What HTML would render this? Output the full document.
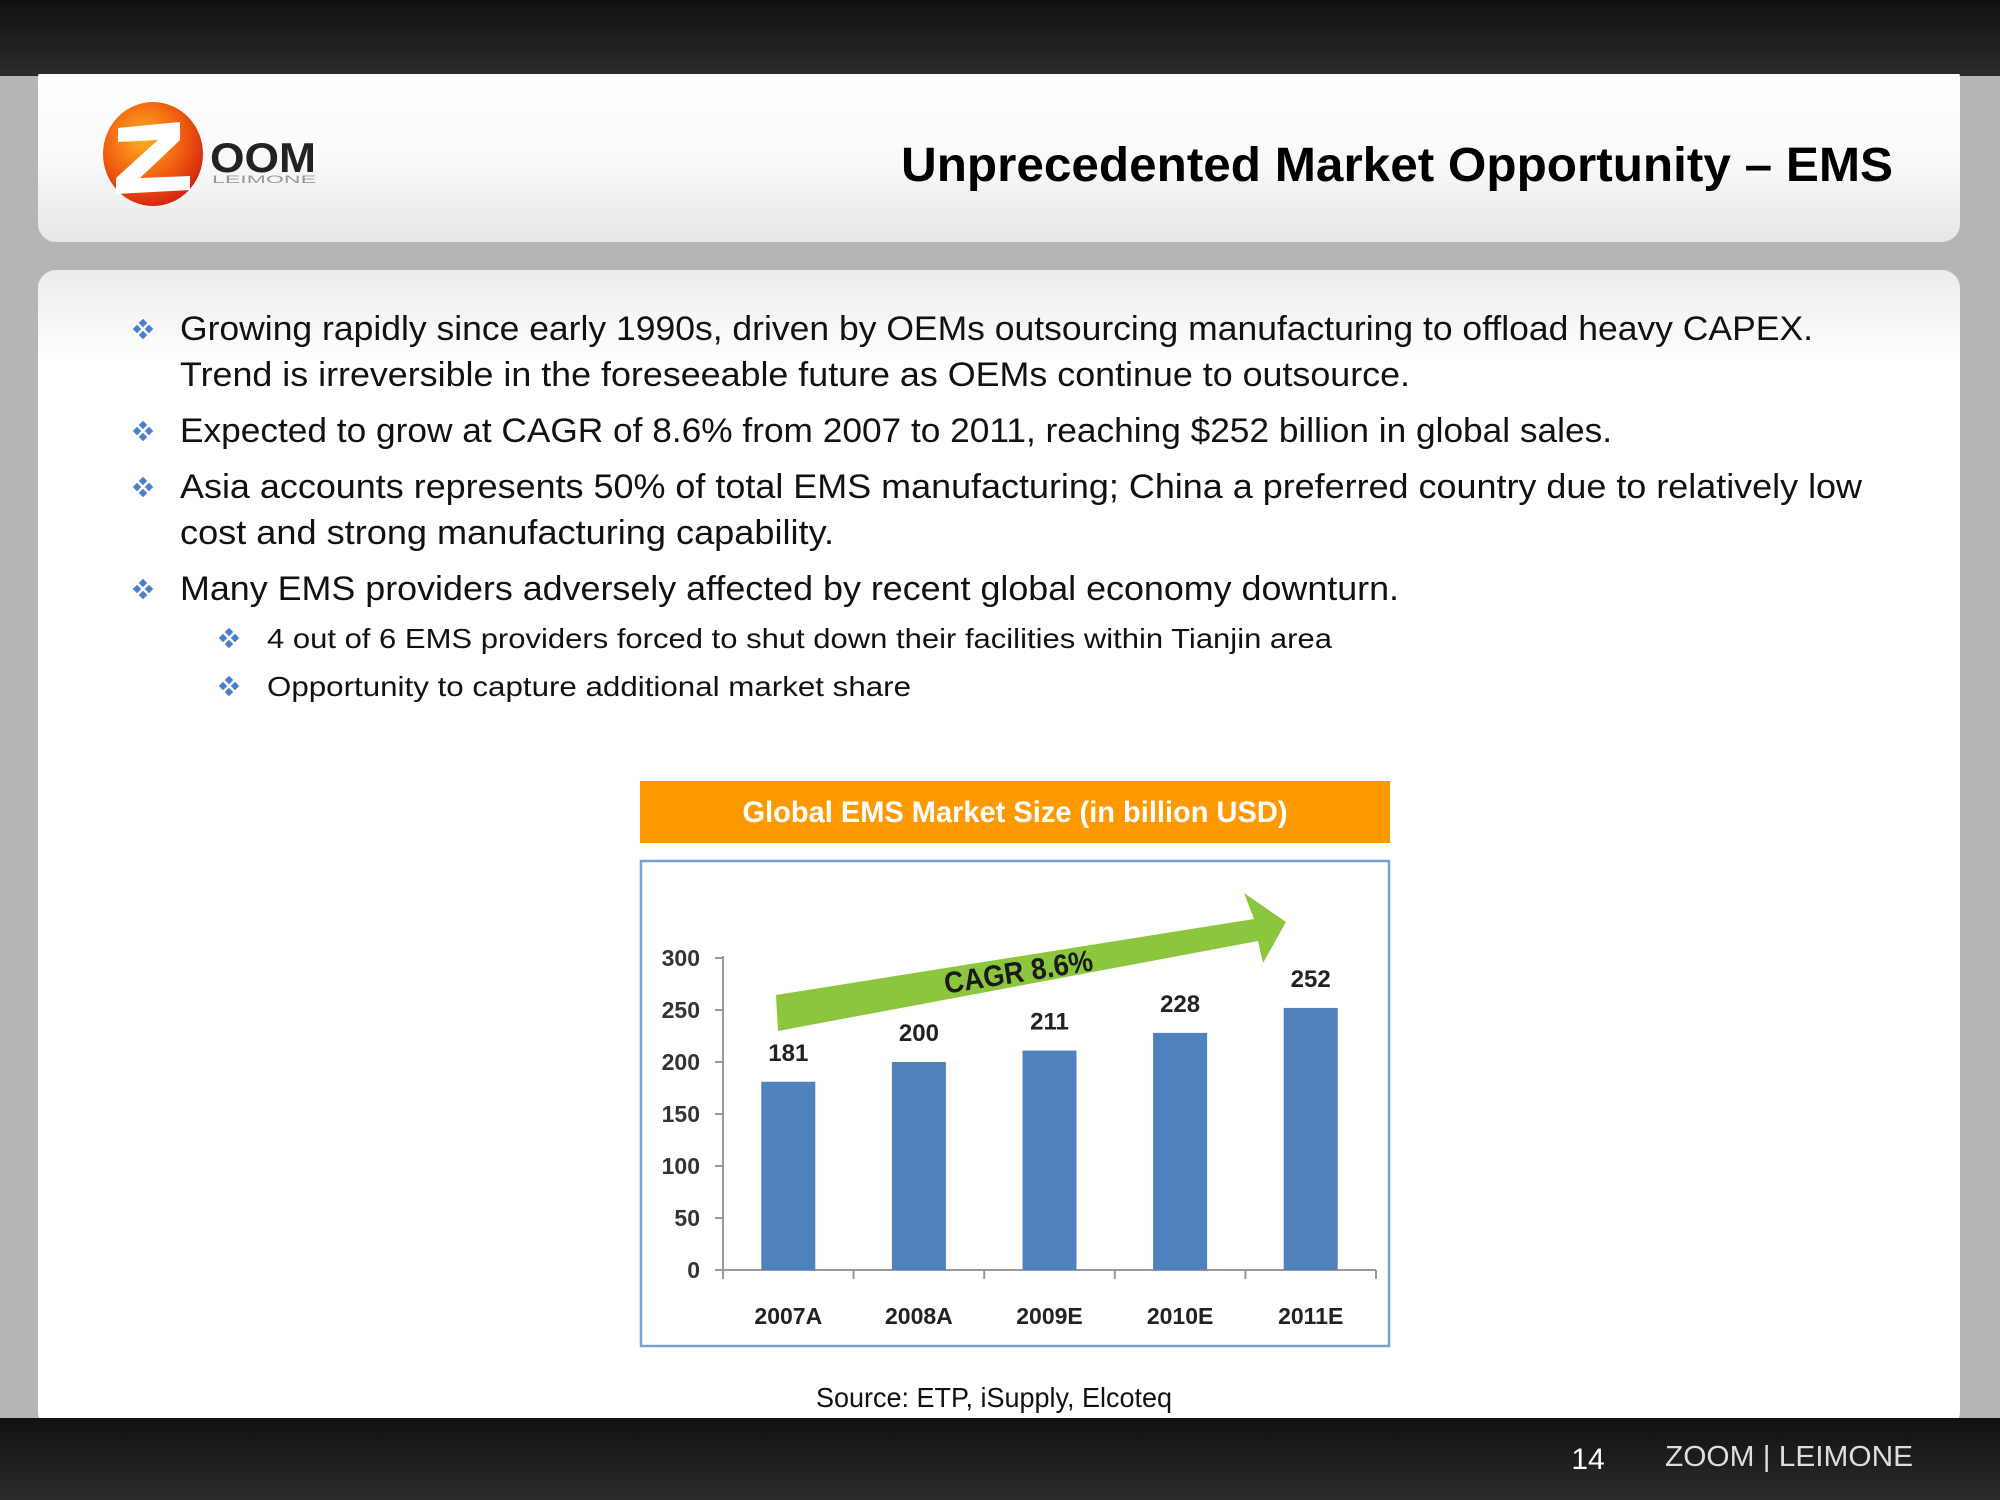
<!DOCTYPE html>
<html><head><meta charset="utf-8"><style>
html,body{margin:0;padding:0;background:#fff;}
svg{display:block;font-family:"Liberation Sans",sans-serif;}
</style></head><body>
<svg width="2000" height="1500" viewBox="0 0 2000 1500">
<defs>
<linearGradient id="topbar" x1="0" y1="0" x2="0" y2="1"><stop offset="0" stop-color="#111"/><stop offset="1" stop-color="#2b2b2b"/></linearGradient>
<linearGradient id="panel" x1="0" y1="0" x2="0" y2="1"><stop offset="0" stop-color="#ffffff"/><stop offset="0.55" stop-color="#fafafa"/><stop offset="1" stop-color="#e6e6e6"/></linearGradient>
<linearGradient id="content" x1="0" y1="0" x2="0" y2="1"><stop offset="0" stop-color="#ececec"/><stop offset="0.08" stop-color="#ffffff"/><stop offset="1" stop-color="#ffffff"/></linearGradient>
<radialGradient id="logo" cx="0.4" cy="0.35" r="0.7"><stop offset="0" stop-color="#ffb020"/><stop offset="0.6" stop-color="#f05a10"/><stop offset="1" stop-color="#d02010"/></radialGradient>
<g id="dia"><rect x="-3" y="-3" width="6" height="6" transform="rotate(45)" fill="#4a7fd0"/></g>
<g id="bul"><use href="#dia" x="0" y="-6"/><use href="#dia" x="-6" y="0"/><use href="#dia" x="6" y="0"/><use href="#dia" x="0" y="6"/></g>
</defs>
<rect width="2000" height="1500" fill="#b5b5b5"/>
<rect x="0" y="0" width="2000" height="76" fill="url(#topbar)"/>
<rect x="0" y="1418" width="2000" height="82" fill="url(#topbar)"/>
<rect x="38" y="60" width="1922" height="182" rx="18" fill="url(#panel)"/>
<rect x="38" y="270" width="1922" height="1160" rx="18" fill="url(#content)"/>
<rect x="0" y="0" width="2000" height="74" fill="url(#topbar)"/>
<rect x="0" y="1418" width="2000" height="82" fill="url(#topbar)"/>

<g>
<ellipse cx="153" cy="154" rx="50" ry="52" fill="url(#logo)"/>
<path d="M118 128 L180 122 L180 140 L140 178 L190 176 L190 190 L116 194 L116 178 L158 140 L118 142 Z" fill="#fff"/>
<text x="210" y="172" font-size="42" font-weight="bold" fill="#222" textLength="106" lengthAdjust="spacingAndGlyphs">OOM</text>
<text x="212" y="183" font-size="11" fill="#999" textLength="104" lengthAdjust="spacingAndGlyphs">LEIMONE</text>
</g>
<text x="1893" y="181" font-size="48" font-weight="bold" text-anchor="end" fill="#000" textLength="992" lengthAdjust="spacingAndGlyphs" style="paint-order:stroke" stroke="#999" stroke-width="0">Unprecedented Market Opportunity – EMS</text>

<g font-size="34" fill="#111">
<use href="#bul" x="143" y="329"/><use href="#bul" x="143" y="431"/><use href="#bul" x="143" y="487"/><use href="#bul" x="143" y="589"/>
<use href="#bul" x="229" y="638" transform=""/><use href="#bul" x="229" y="686"/>
<text x="180" y="340" textLength="1633" lengthAdjust="spacingAndGlyphs">Growing  rapidly since early 1990s, driven by OEMs outsourcing manufacturing to offload heavy CAPEX.</text>
<text x="180" y="386" textLength="1230" lengthAdjust="spacingAndGlyphs">Trend is irreversible in the foreseeable future as OEMs continue to outsource.</text>
<text x="180" y="442" textLength="1432" lengthAdjust="spacingAndGlyphs">Expected to grow at CAGR of 8.6% from 2007 to 2011, reaching $252 billion in global sales.</text>
<text x="180" y="498" textLength="1682" lengthAdjust="spacingAndGlyphs">Asia accounts represents 50% of total EMS manufacturing;  China a preferred country due to relatively low</text>
<text x="180" y="544" textLength="654" lengthAdjust="spacingAndGlyphs">cost and strong manufacturing capability.</text>
<text x="180" y="600" textLength="1219" lengthAdjust="spacingAndGlyphs">Many EMS providers adversely affected by recent global economy downturn.</text>
<text x="267" y="648" font-size="28" textLength="1065" lengthAdjust="spacingAndGlyphs">4 out of 6 EMS providers forced to shut down their facilities within Tianjin area</text>
<text x="267" y="696" font-size="28" textLength="644" lengthAdjust="spacingAndGlyphs">Opportunity to capture additional market share</text>
</g>

<rect x="640" y="781" width="750" height="62" fill="#ff9900"/>
<text x="1015" y="822" font-size="30" font-weight="bold" fill="#fff" text-anchor="middle" textLength="545" lengthAdjust="spacingAndGlyphs">Global EMS Market Size (in billion USD)</text>
<rect x="641" y="861" width="748" height="485" fill="#fff" stroke="#7aa0d8" stroke-width="2.5"/>

<polygon points="778,1031 776,995 1254,919 1244,893 1286,922 1263,963 1258,941" fill="#8cc63f"/>
<text x="1020" y="982" font-size="30" font-weight="bold" fill="#1a1a1a" transform="rotate(-9 1020 982)" text-anchor="middle" textLength="150" lengthAdjust="spacingAndGlyphs">CAGR 8.6%</text>

<g id="chart"></g>
<text x="994" y="1407" font-size="28" fill="#111" text-anchor="middle" textLength="356" lengthAdjust="spacingAndGlyphs">Source: ETP, iSupply, Elcoteq</text>

<text x="1588" y="1469" font-size="30" fill="#fff" text-anchor="middle">14</text>
<text x="1665" y="1466" font-size="29" fill="#ddd" textLength="248" lengthAdjust="spacingAndGlyphs">ZOOM  |  LEIMONE</text>
</svg>
<script>
const categories = ["2007A","2008A","2009E","2010E","2011E"];
const values = [181,200,211,228,252];
const yTicks = [0,50,100,150,200,250,300];
const NS = "http://www.w3.org/2000/svg";
const g = document.getElementById('chart');
const x0 = 723, x1 = 1376, yBase = 1270, yTop = 958, yMax = 300;
const band = (x1 - x0) / categories.length;
const yS = v => yBase - (v / yMax) * (yBase - yTop);
const xC = i => x0 + band * (i + 0.5);
function mk(tag, attrs, txt){const e=document.createElementNS(NS,tag);for(const k in attrs)e.setAttribute(k,attrs[k]);if(txt!==undefined)e.textContent=txt;g.appendChild(e);return e;}
let e = mk('line',{x1:x0,y1:yTop-2,x2:x0,y2:yBase,stroke:'#999','stroke-width':2});


e = mk('line',{x1:x0,y1:yBase,x2:x1,y2:yBase,stroke:'#999','stroke-width':2});


yTicks.forEach(t=>{
  mk('line',{x1:x0-8,y1:yS(t),x2:x0,y2:yS(t),stroke:'#999','stroke-width':2});
  const l = mk('text',{x:700,y:yS(t)+8,'font-size':23,'font-weight':'bold','fill':'#333','text-anchor':'end'},String(t));
  
  
});
for(let i=0;i<=categories.length;i++){mk('line',{x1:x0+band*i,y1:yBase,x2:x0+band*i,y2:yBase+9,stroke:'#999','stroke-width':2});}
categories.forEach((c,i)=>{
  const bw = 54;
  const b = mk('rect',{x:xC(i)-bw/2,y:yS(values[i]),width:bw,height:yBase-yS(values[i]),fill:'#4f81bd'});
  
  
  const v = mk('text',{x:xC(i),y:yS(values[i])-21,'font-size':24,'font-weight':'bold','fill':'#222','text-anchor':'middle'},String(values[i]));
  
  
  const xl = mk('text',{x:xC(i),y:1324,'font-size':23,'font-weight':'bold','fill':'#222','text-anchor':'middle'},c);
  
  
});
</script>
</body></html>
